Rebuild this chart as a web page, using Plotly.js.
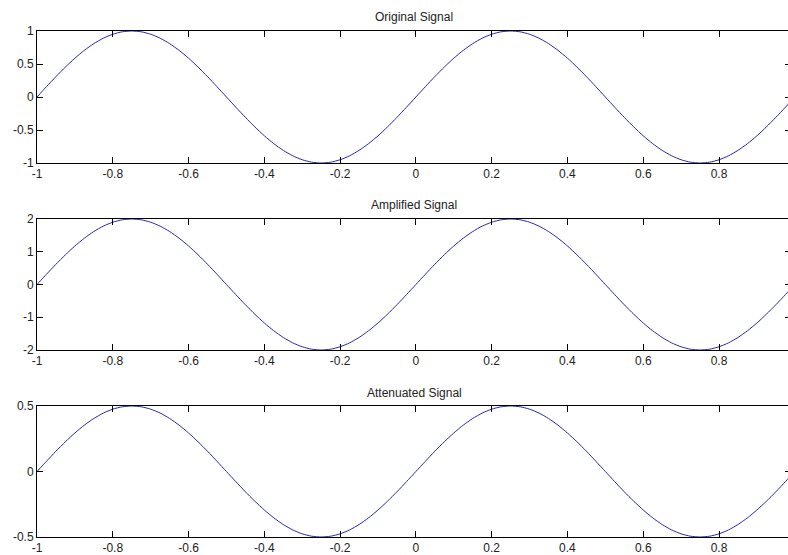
<!DOCTYPE html>
<html>
<head>
<meta charset="utf-8">
<script src="https://cdn.plot.ly/plotly-3.0.1.min.js"></script>
<style>
html, body { margin: 0; padding: 0; overflow: hidden; background: #fff; }
#chart { width: 792px; height: 555px; }
</style>
</head>
<body>
<div id="chart"></div>
<script>
// Sample times (s)
var timeValues = [-1,-0.975,-0.95,-0.925,-0.9,-0.875,-0.85,-0.825,-0.8,-0.775,-0.75,-0.725,-0.7,-0.675,-0.65,-0.625,-0.6,-0.575,-0.55,-0.525,-0.5,-0.475,-0.45,-0.425,-0.4,-0.375,-0.35,-0.325,-0.3,-0.275,-0.25,-0.225,-0.2,-0.175,-0.15,-0.125,-0.1,-0.075,-0.05,-0.025,0,0.025,0.05,0.075,0.1,0.125,0.15,0.175,0.2,0.225,0.25,0.275,0.3,0.325,0.35,0.375,0.4,0.425,0.45,0.475,0.5,0.525,0.55,0.575,0.6,0.625,0.65,0.675,0.7,0.725,0.75,0.775,0.8,0.825,0.85,0.875,0.9,0.925,0.95,0.975,0.99];

var originalSignal = [0,0.156,0.309,0.454,0.588,0.707,0.809,0.891,0.951,0.988,1,0.988,0.951,0.891,0.809,0.707,0.588,0.454,0.309,0.156,0,-0.156,-0.309,-0.454,-0.588,-0.707,-0.809,-0.891,-0.951,-0.988,-1,-0.988,-0.951,-0.891,-0.809,-0.707,-0.588,-0.454,-0.309,-0.156,0,0.156,0.309,0.454,0.588,0.707,0.809,0.891,0.951,0.988,1,0.988,0.951,0.891,0.809,0.707,0.588,0.454,0.309,0.156,0,-0.156,-0.309,-0.454,-0.588,-0.707,-0.809,-0.891,-0.951,-0.988,-1,-0.988,-0.951,-0.891,-0.809,-0.707,-0.588,-0.454,-0.309,-0.156,-0.063];

var amplifiedSignal = [0,0.312,0.618,0.908,1.176,1.414,1.618,1.782,1.902,1.976,2,1.976,1.902,1.782,1.618,1.414,1.176,0.908,0.618,0.312,0,-0.312,-0.618,-0.908,-1.176,-1.414,-1.618,-1.782,-1.902,-1.976,-2,-1.976,-1.902,-1.782,-1.618,-1.414,-1.176,-0.908,-0.618,-0.312,0,0.312,0.618,0.908,1.176,1.414,1.618,1.782,1.902,1.976,2,1.976,1.902,1.782,1.618,1.414,1.176,0.908,0.618,0.312,0,-0.312,-0.618,-0.908,-1.176,-1.414,-1.618,-1.782,-1.902,-1.976,-2,-1.976,-1.902,-1.782,-1.618,-1.414,-1.176,-0.908,-0.618,-0.312,-0.126];

var attenuatedSignal = [0,0.078,0.155,0.227,0.294,0.354,0.405,0.446,0.476,0.494,0.5,0.494,0.476,0.446,0.405,0.354,0.294,0.227,0.155,0.078,0,-0.078,-0.155,-0.227,-0.294,-0.354,-0.405,-0.446,-0.476,-0.494,-0.5,-0.494,-0.476,-0.446,-0.405,-0.354,-0.294,-0.227,-0.155,-0.078,0,0.078,0.155,0.227,0.294,0.354,0.405,0.446,0.476,0.494,0.5,0.494,0.476,0.446,0.405,0.354,0.294,0.227,0.155,0.078,0,-0.078,-0.155,-0.227,-0.294,-0.354,-0.405,-0.446,-0.476,-0.494,-0.5,-0.494,-0.476,-0.446,-0.405,-0.354,-0.294,-0.227,-0.155,-0.078,-0.032];

var subplotTitles = ["Original Signal", "Amplified Signal", "Attenuated Signal"];
var xTickValues = [-1,-0.8,-0.6,-0.4,-0.2,0,0.2,0.4,0.6,0.8];
var xTickLabels = ["-1","-0.8","-0.6","-0.4","-0.2","0","0.2","0.4","0.6","0.8"];
var yTicks1 = [-1,-0.5,0,0.5,1];
var yTicks2 = [-2,-1,0,1,2];
var yTicks3 = [-0.5,0,0.5];

var FONT = {family: "Liberation Sans, Arial, sans-serif", size: 12, color: "#222"};
var lineStyle = {color: "rgb(40,40,170)", width: 1, shape: "spline", smoothing: 0.6};

var traces = [
  {x: timeValues, y: originalSignal, xaxis: "x", yaxis: "y", mode: "lines", line: lineStyle, hoverinfo: "skip"},
  {x: timeValues, y: amplifiedSignal, xaxis: "x2", yaxis: "y2", mode: "lines", line: lineStyle, hoverinfo: "skip"},
  {x: timeValues, y: attenuatedSignal, xaxis: "x3", yaxis: "y3", mode: "lines", line: lineStyle, hoverinfo: "skip"}
];

function xAxis(anchor) {
  return {
    anchor: anchor, domain: [0, 1], range: [-1, 0.99],
    tickmode: "array", tickvals: xTickValues, ticktext: xTickLabels,
    ticks: "inside", ticklen: 6, tickwidth: 1, tickcolor: "#000",
    showline: true, linecolor: "#000", linewidth: 1, mirror: "ticks",
    showgrid: false, zeroline: false, tickfont: FONT, fixedrange: true
  };
}
function yAxis(anchor, domain, range, ticks) {
  return {
    anchor: anchor, domain: domain, range: range,
    tickmode: "array", tickvals: ticks, ticktext: ticks.map(String),
    ticks: "inside", ticklen: 6, tickwidth: 1, tickcolor: "#000",
    showline: true, linecolor: "#000", linewidth: 1, mirror: "ticks",
    showgrid: false, zeroline: false, tickfont: FONT, fixedrange: true
  };
}

var H = 555;
function py(p) { return 1 - p / H; }

var layout = {
  width: 792, height: 555,
  margin: {l: 37, r: 1, t: 0, b: 0},
  paper_bgcolor: "#fff", plot_bgcolor: "#fff",
  showlegend: false,
  font: FONT,
  xaxis: xAxis("y"),
  xaxis2: xAxis("y2"),
  xaxis3: xAxis("y3"),
  yaxis: yAxis("x", [py(163), py(31)], [-1, 1], yTicks1),
  yaxis2: yAxis("x2", [py(350), py(219)], [-2, 2], yTicks2),
  yaxis3: yAxis("x3", [py(537), py(406)], [-0.5, 0.5], yTicks3),
  annotations: [
    {text: subplotTitles[0], xref: "paper", yref: "paper", x: 0.5, y: py(17), xanchor: "center", yanchor: "middle", showarrow: false, font: FONT},
    {text: subplotTitles[1], xref: "paper", yref: "paper", x: 0.5, y: py(205), xanchor: "center", yanchor: "middle", showarrow: false, font: FONT},
    {text: subplotTitles[2], xref: "paper", yref: "paper", x: 0.5, y: py(393), xanchor: "center", yanchor: "middle", showarrow: false, font: FONT}
  ]
};

Plotly.newPlot("chart", traces, layout, {displayModeBar: false, staticPlot: true});
</script>
</body>
</html>
